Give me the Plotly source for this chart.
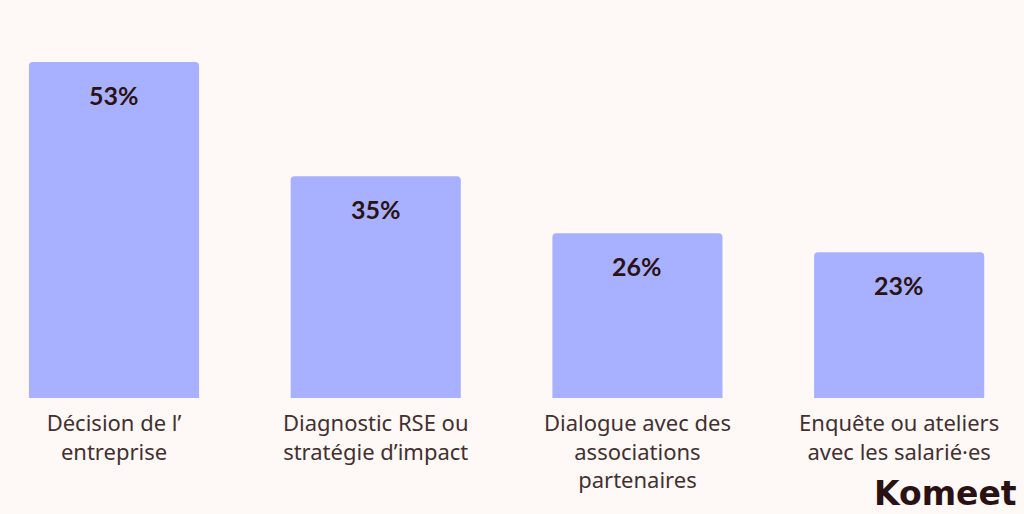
import plotly.graph_objects as go

categories = [
    "Décision de l’<br>entreprise",
    "Diagnostic RSE ou<br>stratégie d’impact",
    "Dialogue avec des<br>associations<br>partenaires",
    "Enquête ou ateliers<br>avec les salarié·es",
]
values = [53, 35, 26, 23]
value_labels = ["53%", "35%", "26%", "23%"]

BG = "#FEF9F6"
BAR = "#A8B1FF"
TXT = "#433030"
DARK = "#2B1215"

x_idx = list(range(len(categories)))

fig = go.Figure()
fig.add_trace(go.Bar(
    x=x_idx, y=values, marker=dict(color=BAR, line=dict(width=0)),
    hoverinfo="skip",
))

for i, (v, lab) in enumerate(zip(values, value_labels)):
    fig.add_annotation(x=i, y=v, text="<b>%s</b>" % lab, showarrow=False,
                       yshift=-33, font=dict(size=25, color=DARK, family="Lato"),
                       xanchor="center", yanchor="middle")

fig.add_annotation(xref="paper", yref="paper", x=1019/1024, y=-(493-398)/398,
                   text="<b>Komeet</b>", showarrow=False, xanchor="right", yanchor="middle",
                   font=dict(size=33, color="#2A1214", family="DejaVu Sans"))

fig.update_layout(
    width=1024, height=514,
    paper_bgcolor=BG, plot_bgcolor=BG,
    margin=dict(l=0, r=0, t=0, b=116),
    bargap=0.35, barcornerradius=4,
    showlegend=False,
    xaxis=dict(range=[-0.4356, 3.477], tickmode="array", tickvals=x_idx, ticktext=categories,
               showgrid=False, zeroline=False, showline=False, ticks="", ticklabelstandoff=10,
               tickfont=dict(size=22, color=TXT, family="Noto Sans"), fixedrange=True),
    yaxis=dict(range=[0, 62.8], visible=False, showgrid=False, zeroline=False, fixedrange=True),
)

fig.write_html("out.html", config={"displayModeBar": False}, post_script=(
    "document.body.style.margin='0';"
    "document.body.style.background='" + BG + "';"
    "document.documentElement.style.background='" + BG + "';"
))
